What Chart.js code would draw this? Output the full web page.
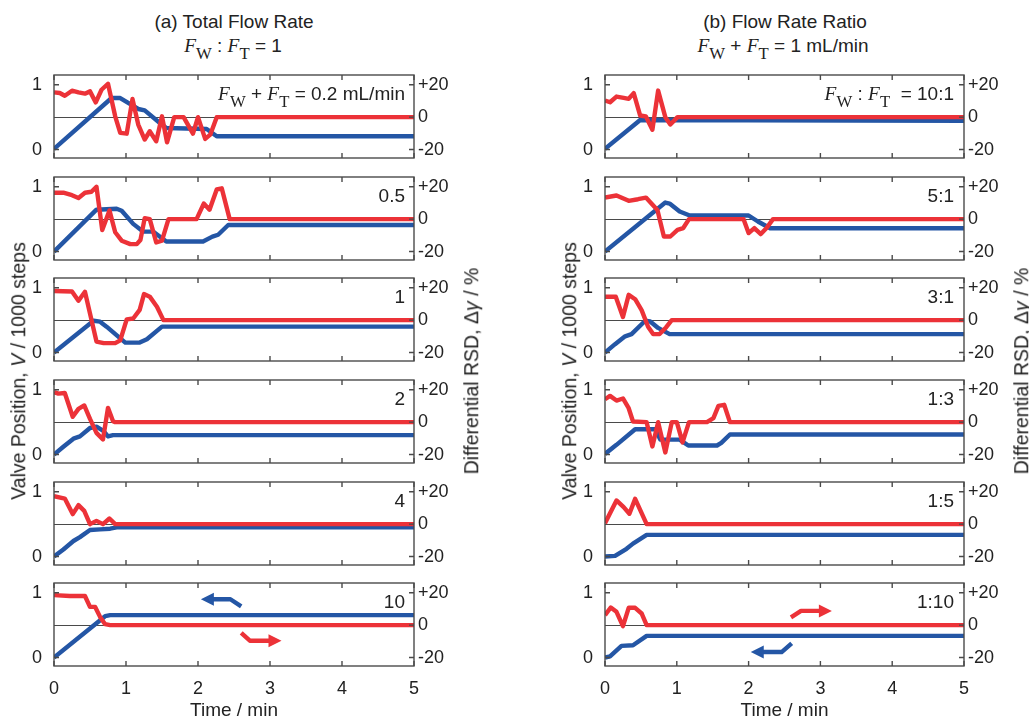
<!DOCTYPE html>
<html>
<head>
<meta charset="utf-8">
<title>Valve position and differential RSD</title>
<script src="https://cdn.jsdelivr.net/npm/chart.js@4.4.1/dist/chart.umd.min.js"></script>
<style>
  html, body { margin: 0; padding: 0; background: #fff; }
  #fig { position: relative; width: 1029px; height: 720px; overflow: hidden;
         font-family: 'Liberation Sans', Arial, sans-serif; color: #222; }
  #fig canvas { position: absolute; }
  .t { position: absolute; white-space: nowrap; line-height: 1; }
  .f { font-family: 'Liberation Serif', serif; font-style: italic; font-size: 1.02em; }
  .sub { font-family: 'Liberation Serif', serif; font-size: 0.88em; position: relative; top: 0.42em; }
  .it { font-style: italic; }
</style>
</head>
<body>
<div id="fig"></div>
<script>
// ---- data: time (min) vs valve position (1000 steps) and differential RSD (%) ----
// (a) total flow rate series, F_W : F_T = 1
const a1_valve = [[0,0.01],[0.80,0.795],[0.92,0.795],[1.17,0.626],[1.26,0.605],[1.47,0.41],[1.56,0.333],[2.12,0.318],[2.26,0.205],[5,0.205]];
const a1_rsd   = [[0,15.3],[0.08,14.9],[0.15,13.2],[0.25,16.3],[0.34,15.3],[0.43,14.5],[0.50,15.9],[0.58,9.1],[0.66,16.9],[0.75,20.6],[0.85,0.5],[0.92,-9.7],[1.01,-10.2],[1.09,11.2],[1.17,-4.6],[1.26,-13.8],[1.33,-8.7],[1.42,-14.9],[1.50,0.5],[1.57,-15.5],[1.67,0],[1.80,0],[1.93,-10.2],[2.00,0],[2.10,-13.4],[2.17,-10.8],[2.26,0],[5,0]];
const a2_valve = [[0,0],[0.59,0.646],[0.87,0.66],[0.94,0.63],[1.10,0.427],[1.24,0.307],[1.38,0.307],[1.56,0.156],[2.07,0.156],[2.20,0.23],[2.28,0.26],[2.42,0.41],[5,0.41]];
const a2_rsd   = [[0,16.3],[0.13,16.3],[0.25,14.8],[0.34,13.1],[0.43,16.3],[0.52,16.9],[0.59,20],[0.67,-6.7],[0.77,5.4],[0.85,-8.1],[0.94,-13.3],[1.06,-15.4],[1.15,-15.4],[1.20,-12.9],[1.26,0.6],[1.33,0],[1.42,-14.4],[1.50,-13.3],[1.59,0],[1.98,0],[2.08,9.6],[2.16,5.8],[2.26,18.3],[2.33,19],[2.44,0],[5,0]];
const a3_valve = [[0,0],[0.55,0.49],[0.64,0.477],[0.73,0.40],[0.99,0.154],[1.19,0.154],[1.29,0.205],[1.50,0.40],[5,0.40]];
const a3_rsd   = [[0,18],[0.25,17.7],[0.34,12],[0.43,17.5],[0.59,-13.2],[0.69,-14.2],[0.85,-14.2],[0.92,-12.5],[1.01,0.5],[1.10,1],[1.19,6.3],[1.25,16.1],[1.33,14.5],[1.43,8.3],[1.52,0],[5,0]];
const a4_valve = [[0,0],[0.13,0.12],[0.27,0.245],[0.36,0.28],[0.50,0.41],[0.59,0.43],[0.69,0.36],[0.75,0.28],[0.82,0.30],[5,0.30]];
const a4_rsd   = [[0,18.5],[0.06,17.6],[0.15,18],[0.26,3.3],[0.34,8.2],[0.42,10.3],[0.50,2],[0.59,-6.6],[0.68,-10.7],[0.75,8.8],[0.82,0.6],[0.85,0],[5,0]];
const a5_valve = [[0,0],[0.13,0.11],[0.27,0.24],[0.36,0.30],[0.50,0.41],[0.64,0.42],[0.78,0.43],[0.87,0.45],[5,0.45]];
const a5_rsd   = [[0,17.2],[0.15,15.8],[0.26,6.2],[0.34,11.7],[0.42,8.2],[0.50,0],[0.59,2],[0.68,0],[0.77,3.5],[0.85,0],[5,0]];
const a6_valve = [[0,0],[0.71,0.638],[0.78,0.654],[5,0.654]];
const a6_rsd   = [[0,18.5],[0.22,18],[0.43,18],[0.50,11.3],[0.57,11.3],[0.64,5.1],[0.71,0.6],[0.78,0],[5,0]];

// (b) flow rate ratio series, F_W + F_T = 1 mL/min
const b1_valve = [[0,0.01],[0.49,0.455],[5,0.445]];
const b1_rsd   = [[0,10.3],[0.07,9.2],[0.16,12.7],[0.26,11.9],[0.33,11.3],[0.40,14.8],[0.49,1],[0.57,0.4],[0.66,-7.8],[0.74,16.4],[0.84,0],[0.91,-4.5],[1.01,0],[5,0]];
const b2_valve = [[0,0],[0.84,0.756],[0.90,0.74],[1.04,0.618],[1.18,0.556],[2.00,0.556],[2.13,0.464],[2.30,0.36],[5,0.36]];
const b2_rsd   = [[0,13.3],[0.16,14.6],[0.33,11.3],[0.46,12.3],[0.57,13.3],[0.73,5.7],[0.82,-10.7],[0.91,-10.7],[1.01,-6.6],[1.09,-5.5],[1.17,0],[1.93,0],[2.00,-8.6],[2.08,-5.5],[2.17,-9.2],[2.25,-5.5],[2.34,0],[5,0]];
const b3_valve = [[0,0],[0.14,0.13],[0.28,0.25],[0.37,0.285],[0.56,0.49],[0.63,0.48],[0.74,0.38],[0.90,0.285],[5,0.285]];
const b3_rsd   = [[0,14.4],[0.15,14.4],[0.25,2],[0.33,15.6],[0.42,12.9],[0.51,6.2],[0.60,-4.1],[0.67,-8.6],[0.76,-8.6],[0.85,-4.5],[0.93,0],[5,0]];
const b4_valve = [[0,0.01],[0.16,0.15],[0.42,0.39],[0.70,0.39],[0.77,0.23],[1.04,0.23],[1.16,0.14],[1.56,0.14],[1.62,0.18],[1.74,0.31],[5,0.31]];
const b4_rsd   = [[0,14.1],[0.07,16.2],[0.16,13.3],[0.25,14.6],[0.33,8.6],[0.39,0.4],[0.58,0],[0.66,-15],[0.74,0],[0.84,-18.7],[0.93,0],[1.00,0],[1.08,-12.5],[1.17,0],[1.42,0],[1.51,2.5],[1.58,10],[1.66,10.7],[1.74,0],[5,0]];
const b5_valve = [[0,0],[0.14,0.01],[0.30,0.12],[0.39,0.20],[0.58,0.335],[5,0.335]];
const b5_rsd   = [[0,0.6],[0.16,14.6],[0.26,10.5],[0.34,6.4],[0.42,15.6],[0.58,0],[5,0]];
const b6_valve = [[0,0],[0.07,0.02],[0.23,0.18],[0.39,0.19],[0.58,0.335],[5,0.335]];
const b6_rsd   = [[0,6.2],[0.08,10.9],[0.16,8.2],[0.25,-0.6],[0.33,10.7],[0.42,10.7],[0.51,7.2],[0.58,0],[5,0]];

// axis-pointer arrows (time, valve-axis units); the last point is the arrow tip
const a6_arrowValve = [[2.60,0.79],[2.45,0.90],[2.04,0.90]];
const a6_arrowRsd   = [[2.60,0.38],[2.72,0.26],[3.16,0.26]];
const b6_arrowRsd   = [[2.59,0.62],[2.73,0.72],[3.16,0.72]];
const b6_arrowValve = [[2.60,0.22],[2.46,0.085],[2.03,0.085]];

// tick values and panel labels
const timeTicks  = [0, 1, 2, 3, 4, 5];
const valveTicks = [0, 1];
const rsdTicks   = [-20, 0, 20];
const totalFlowLabels = ['0.2 mL/min', '0.5', '1', '2', '4', '10'];
const ratioLabels     = ['10:1', '5:1', '3:1', '1:3', '1:5', '1:10'];

// ---- layout & style ----
const BLUE = '#2456a5', RED = '#ec3238', INK = '#222', FRAME = '#4a4a4a';
const FONT = "'Liberation Sans', Arial, sans-serif";
const COLS = [{ left: 54, right: 414 }, { left: 605, right: 964 }];
const ROW_TOP = [75, 177, 278, 380, 482, 583];
const ROW_H = 83, PAD = 12, LW = 50, RW = 50, XH = 30;
const VALVE_MIN = -0.13, VALVE_MAX = 1.15;
const RSD_MIN = (VALVE_MIN - 0.5) * 40, RSD_MAX = (VALVE_MAX - 0.5) * 40;

const fig = document.getElementById('fig');
const toXY = pts => pts.map(p => ({ x: p[0], y: p[1] }));

function addText(html, x, baseline, size, align) {
  const d = document.createElement('div');
  d.className = 't';
  d.innerHTML = html;
  d.style.fontSize = size + 'px';
  d.style.top = (baseline - 0.8465 * size) + 'px';
  if (align === 'right') { d.style.right = (1029 - x) + 'px'; }
  else if (align === 'center') { d.style.left = x + 'px'; d.style.transform = 'translateX(-50%)'; }
  else { d.style.left = x + 'px'; }
  fig.appendChild(d);
}
function addRotated(html, cx, cy, size) {
  const d = document.createElement('div');
  d.className = 't';
  d.innerHTML = html;
  d.style.fontSize = size + 'px';
  d.style.left = cx + 'px';
  d.style.top = cy + 'px';
  d.style.transform = 'translate(-50%,-50%) rotate(-90deg)';
  fig.appendChild(d);
}

// zero reference line, frame and inward ticks
const framePlugin = {
  id: 'frame',
  beforeDatasetsDraw(chart) {
    const { ctx, chartArea: a, scales } = chart;
    const y = Math.round(scales.y1.getPixelForValue(0)) + 0.5;
    ctx.save();
    ctx.strokeStyle = FRAME; ctx.lineWidth = 1;
    ctx.beginPath(); ctx.moveTo(a.left, y); ctx.lineTo(a.right, y); ctx.stroke();
    ctx.restore();
  },
  afterDatasetsDraw(chart) {
    const { ctx, chartArea: a, scales } = chart;
    const T = 5;
    ctx.save();
    ctx.strokeStyle = FRAME; ctx.lineWidth = 1.4;
    ctx.strokeRect(a.left, a.top, a.right - a.left, a.bottom - a.top);
    ctx.beginPath();
    timeTicks.forEach(v => {
      const x = scales.x.getPixelForValue(v);
      ctx.moveTo(x, a.top); ctx.lineTo(x, a.top + T);
      ctx.moveTo(x, a.bottom); ctx.lineTo(x, a.bottom - T);
    });
    valveTicks.forEach(v => {
      const y = scales.y.getPixelForValue(v);
      ctx.moveTo(a.left, y); ctx.lineTo(a.left + T, y);
    });
    rsdTicks.forEach(v => {
      const y = scales.y1.getPixelForValue(v);
      ctx.moveTo(a.right, y); ctx.lineTo(a.right - T, y);
    });
    ctx.stroke();
    ctx.restore();
  }
};

function arrowPlugin(arrows) {
  return {
    id: 'arrows',
    afterDatasetsDraw(chart) {
      const { ctx, scales } = chart;
      arrows.forEach(({ pts, color }) => {
        const p = pts.map(q => ({ x: scales.x.getPixelForValue(q[0]), y: scales.y.getPixelForValue(q[1]) }));
        const n = p.length, tip = p[n - 1], prev = p[n - 2];
        const ang = Math.atan2(tip.y - prev.y, tip.x - prev.x);
        const L = 13, W = 6.5;
        const bx = tip.x - L * Math.cos(ang), by = tip.y - L * Math.sin(ang);
        ctx.save();
        ctx.strokeStyle = color; ctx.fillStyle = color;
        ctx.lineWidth = 4.4; ctx.lineJoin = 'round';
        ctx.beginPath();
        ctx.moveTo(p[0].x, p[0].y);
        for (let i = 1; i < n - 1; i++) ctx.lineTo(p[i].x, p[i].y);
        ctx.lineTo(bx + Math.cos(ang), by + Math.sin(ang));
        ctx.stroke();
        ctx.beginPath();
        ctx.moveTo(tip.x, tip.y);
        ctx.lineTo(bx - W * Math.sin(ang), by + W * Math.cos(ang));
        ctx.lineTo(bx + W * Math.sin(ang), by - W * Math.cos(ang));
        ctx.closePath(); ctx.fill();
        ctx.restore();
      });
    }
  };
}

// scales keep their fixed sizes; no extra room is reserved for edge labels
function fixSize(prop, size) {
  return s => {
    s[prop] = size;
    s.paddingTop = 0; s.paddingBottom = 0; s.paddingLeft = 0; s.paddingRight = 0;
  };
}

function makePanel(col, row, valve, rsd, arrows) {
  const c = COLS[col];
  const bottom = row === ROW_TOP.length - 1;
  const cv = document.createElement('canvas');
  const w = LW + (c.right - c.left) + RW;
  const h = PAD + ROW_H + (bottom ? XH : PAD);
  cv.width = w; cv.height = h;
  cv.style.left = (c.left - LW) + 'px';
  cv.style.top = (ROW_TOP[row] - PAD) + 'px';
  fig.appendChild(cv);
  const tickFont = { family: FONT, size: 18 };
  new Chart(cv, {
    type: 'line',
    data: {
      datasets: [
        { data: toXY(rsd), yAxisID: 'y1', borderColor: RED },
        { data: toXY(valve), yAxisID: 'y', borderColor: BLUE }
      ]
    },
    options: {
      responsive: false, animation: false, events: [],
      layout: { padding: { top: PAD, bottom: bottom ? 0 : PAD, left: 0, right: 0 } },
      plugins: { legend: { display: false }, tooltip: { enabled: false } },
      elements: {
        point: { radius: 0 },
        line: { tension: 0, borderWidth: 4.4, borderJoinStyle: 'round', borderCapStyle: 'butt', fill: false }
      },
      scales: {
        x: {
          type: 'linear', min: 0, max: 5, display: bottom, position: 'bottom',
          grid: { display: false, drawTicks: false }, border: { display: false },
          ticks: { stepSize: 1, padding: 12, font: tickFont, color: INK, maxRotation: 0 },
          afterBuildTicks: s => { s.ticks = timeTicks.map(v => ({ value: v })); },
          afterFit: fixSize('height', bottom ? XH : 0)
        },
        y: {
          type: 'linear', position: 'left', min: VALVE_MIN, max: VALVE_MAX,
          grid: { display: false, drawTicks: false }, border: { display: false },
          ticks: { padding: 12, font: tickFont, color: INK },
          afterBuildTicks: s => { s.ticks = valveTicks.map(v => ({ value: v })); },
          afterFit: fixSize('width', LW)
        },
        y1: {
          type: 'linear', position: 'right', min: RSD_MIN, max: RSD_MAX,
          grid: { display: false, drawTicks: false }, border: { display: false },
          ticks: { padding: 4, font: tickFont, color: INK,
                   callback: v => (v > 0 ? '+' + v : String(v)) },
          afterBuildTicks: s => { s.ticks = rsdTicks.map(v => ({ value: v })); },
          afterFit: fixSize('width', RW)
        }
      }
    },
    plugins: arrows ? [framePlugin, arrowPlugin(arrows)] : [framePlugin]
  });
}

const panelsA = [[a1_valve, a1_rsd], [a2_valve, a2_rsd], [a3_valve, a3_rsd], [a4_valve, a4_rsd], [a5_valve, a5_rsd], [a6_valve, a6_rsd]];
const panelsB = [[b1_valve, b1_rsd], [b2_valve, b2_rsd], [b3_valve, b3_rsd], [b4_valve, b4_rsd], [b5_valve, b5_rsd], [b6_valve, b6_rsd]];

panelsA.forEach((p, i) => makePanel(0, i, p[0], p[1],
  i === 5 ? [{ pts: a6_arrowValve, color: BLUE }, { pts: a6_arrowRsd, color: RED }] : null));
panelsB.forEach((p, i) => makePanel(1, i, p[0], p[1],
  i === 5 ? [{ pts: b6_arrowRsd, color: RED }, { pts: b6_arrowValve, color: BLUE }] : null));

// ---- text ----
const FW = '<span class="f">F</span><span class="sub">W</span>';
const FT = '<span class="f">F</span><span class="sub">T</span>';

addText('(a) Total Flow Rate', 234, 28.5, 19, 'center');
addText(FW + ' : ' + FT + ' = 1', 233, 52.5, 19, 'center');
addText('(b) Flow Rate Ratio', 785, 28.5, 19, 'center');
addText(FW + ' + ' + FT + ' = 1 mL/min', 783, 52.5, 19, 'center');

totalFlowLabels.forEach((s, i) => {
  const html = i === 0 ? FW + ' + ' + FT + ' = ' + s : s;
  addText(html, COLS[0].right - 9, ROW_TOP[i] + 25, 19, 'right');
});
ratioLabels.forEach((s, i) => {
  const html = i === 0 ? FW + ' : ' + FT + '&nbsp; = ' + s : s;
  addText(html, COLS[1].right - 10, ROW_TOP[i] + 25, 19, 'right');
});

COLS.forEach(c => addText('Time / min', (c.left + c.right) / 2, 716.5, 19, 'center'));

const valveTitle = 'Valve Position, <span class="it">V</span> / 1000 steps';
const rsdTitle = 'Differential RSD, &Delta;<span class="it">&gamma;</span> / %';
addRotated(valveTitle, 19, 371, 19.5);
addRotated(valveTitle, 569.5, 371, 19.5);
addRotated(rsdTitle, 472, 371, 19.5);
addRotated(rsdTitle, 1022, 371, 19.5);
</script>
</body>
</html>
